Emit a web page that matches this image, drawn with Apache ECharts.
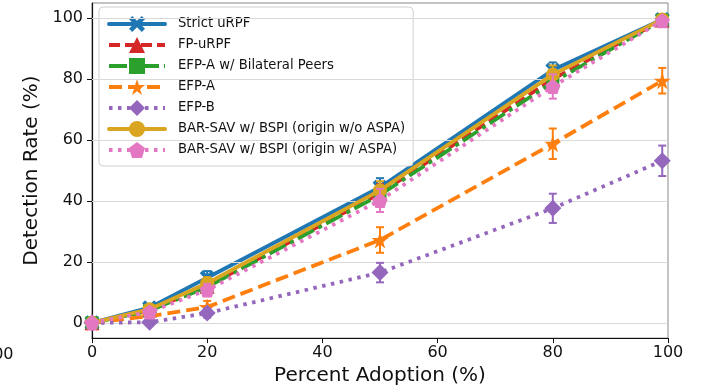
<!DOCTYPE html>
<html>
<head>
<meta charset="utf-8">
<script src="https://cdn.jsdelivr.net/npm/echarts@6/dist/echarts.min.js"></script>
<style>
  html, body { margin: 0; padding: 0; background: #fff; }
  #chart { width: 705px; height: 391px; }
</style>
</head>
<body>
<div id="chart"></div>
<script>
// Adoption levels (x) and detection rates (%) with error half-widths
const adoption = [0, 10, 20, 50, 80, 99];

const strictUrpf     = [0, 5.0, 14.8, 44.5, 83.0, 99.6];
const strictUrpfErr  = [0.6, 1.2, 2.2, 3.0, 2.5, 0.8];

const fpUrpf         = [0, 4.2, 12.0, 42.5, 80.0, 99.4];
const fpUrpfErr      = [0.6, 1.0, 2.0, 3.0, 3.0, 0.8];

const efpaBilateral    = [0, 4.0, 11.8, 42.0, 79.0, 99.4];
const efpaBilateralErr = [0.6, 1.0, 2.0, 3.0, 3.0, 0.8];

const efpa           = [0, 2.2, 5.2, 27.2, 58.8, 79.5];
const efpaErr        = [0.5, 1.0, 2.0, 4.2, 5.0, 4.2];

const efpb           = [0, 0.2, 3.2, 16.5, 37.6, 53.2];
const efpbErr        = [0.3, 0.6, 1.5, 3.2, 4.8, 5.0];

const barsavNoAspa    = [0, 4.5, 13.0, 43.5, 81.5, 99.6];
const barsavNoAspaErr = [0.6, 1.0, 2.0, 3.0, 3.0, 0.8];

const barsavAspa     = [0, 3.6, 10.8, 40.2, 77.6, 99.2];
const barsavAspaErr  = [0.6, 1.0, 2.0, 3.8, 4.0, 0.8];

const yTicks = [0, 20, 40, 60, 80, 100];

// Marker shapes not built into ECharts
const SYM_X = 'path://M20,0 L50,30 L80,0 L100,20 L70,50 L100,80 L80,100 L50,70 L20,100 L0,80 L30,50 L0,20 Z';
const SYM_STAR = 'path://M50,0 L61.2,34.5 L97.6,34.5 L68.2,55.9 L79.4,90.5 L50,69.1 L20.6,90.5 L31.8,55.9 L2.4,34.5 L38.8,34.5 Z';
const SYM_PENT = 'path://M50,0 L100,36.3 L80.9,95.1 L19.1,95.1 L0,36.3 Z';

const seriesDefs = [
  { name: 'Strict uRPF', color: '#1f77b4', data: strictUrpf, err: strictUrpfErr, type: 'solid', symbol: SYM_X, size: 15 },
  { name: 'FP-uRPF', color: '#d62728', data: fpUrpf, err: fpUrpfErr, type: [11, 5], symbol: 'triangle', size: 15 },
  { name: 'EFP-A w/ Bilateral Peers', color: '#2ca02c', data: efpaBilateral, err: efpaBilateralErr, type: [18, 5, 4, 5], symbol: 'rect', size: 13 },
  { name: 'EFP-A', color: '#ff7f0e', data: efpa, err: efpaErr, type: [13, 6], symbol: SYM_STAR, size: 17 },
  { name: 'EFP-B', color: '#9467bd', data: efpb, err: efpbErr, type: [3.5, 5.5], symbol: 'diamond', size: 17 },
  { name: 'BAR-SAV w/ BSPI (origin w/o ASPA)', color: '#daa520', data: barsavNoAspa, err: barsavNoAspaErr, type: 'solid', symbol: 'circle', size: 14 },
  { name: 'BAR-SAV w/ BSPI (origin w/ ASPA)', color: '#e377c2', data: barsavAspa, err: barsavAspaErr, type: [3.5, 5.5], symbol: SYM_PENT, size: 15 }
];

function errorBarRenderer(color) {
  return function (params, api) {
    const x = api.value(0);
    const top = api.coord([x, api.value(2)]);
    const bot = api.coord([x, api.value(1)]);
    const cap = 4;
    const style = { stroke: color, lineWidth: 2 };
    return {
      type: 'group',
      children: [
        { type: 'line', shape: { x1: top[0], y1: top[1], x2: bot[0], y2: bot[1] }, style: style },
        { type: 'line', shape: { x1: top[0] - cap, y1: top[1], x2: top[0] + cap, y2: top[1] }, style: style },
        { type: 'line', shape: { x1: bot[0] - cap, y1: bot[1], x2: bot[0] + cap, y2: bot[1] }, style: style }
      ]
    };
  };
}

const series = [];
seriesDefs.forEach(function (d, i) {
  series.push({
    name: d.name,
    type: 'line',
    data: adoption.map(function (x, k) { return [x, d.data[k]]; }),
    symbol: d.symbol,
    symbolSize: d.size,
    showAllSymbol: true,
    color: d.color,
    lineStyle: { color: d.color, width: 3.8, type: d.type, cap: d.type === 'solid' ? 'round' : 'butt' },
    itemStyle: { color: d.color },
    z: 3 + i,
    animation: false,
    clip: false
  });
  series.push({
    type: 'custom',
    renderItem: errorBarRenderer(d.color),
    data: adoption.map(function (x, k) { return [x, d.data[k] - d.err[k], d.data[k] + d.err[k]]; }),
    encode: { x: 0, y: [1, 2] },
    z: 3 + i,
    animation: false,
    silent: true
  });
});

// Horizontal grid lines at the labelled y ticks
series.push({
  type: 'line',
  data: [],
  silent: true,
  z: 1,
  markLine: {
    silent: true,
    symbol: 'none',
    label: { show: false },
    animation: false,
    lineStyle: { color: '#d9d9d9', width: 1, type: 'solid' },
    data: yTicks.map(function (v) { return { yAxis: v }; })
  }
});

const chart = echarts.init(document.getElementById('chart'), null, { renderer: 'canvas' });
chart.setOption({
  animation: false,
  backgroundColor: '#ffffff',
  textStyle: { fontFamily: 'DejaVu Sans' },
  grid: {
    left: 92, right: 37, top: 3, bottom: 51,
    show: true, borderColor: '#888', borderWidth: 1, backgroundColor: 'transparent'
  },
  xAxis: {
    type: 'value', min: 0, max: 100, interval: 20,
    name: 'Percent Adoption (%)', nameLocation: 'middle', nameGap: 27,
    nameTextStyle: { fontSize: 20, color: '#111', fontFamily: 'DejaVu Sans' },
    axisLine: { show: true, onZero: false, lineStyle: { color: '#111', width: 1.2 } },
    axisTick: { show: true, length: 5, lineStyle: { color: '#111' } },
    axisLabel: { fontSize: 16, color: '#111', margin: 7, fontFamily: 'DejaVu Sans' },
    splitLine: { show: false }
  },
  yAxis: {
    type: 'value', min: -5, max: 105,
    name: 'Detection Rate (%)', nameLocation: 'middle', nameGap: 46,
    nameTextStyle: { fontSize: 20, color: '#111', fontFamily: 'DejaVu Sans' },
    axisLine: { show: true, onZero: false, lineStyle: { color: '#111', width: 1.2 } },
    axisTick: { show: true, length: 5, customValues: yTicks, lineStyle: { color: '#111' } },
    axisLabel: { fontSize: 16, color: '#111', margin: 9, customValues: yTicks, fontFamily: 'DejaVu Sans' },
    splitLine: { show: false }
  },
  legend: {
    orient: 'vertical',
    left: 99, top: 7,
    padding: [9, 8, 8, 8],
    itemWidth: 56, itemHeight: 20, itemGap: 5,
    backgroundColor: '#ffffff',
    borderColor: '#d0d0d0', borderWidth: 1, borderRadius: 4,
    lineStyle: { width: 4 },
    textStyle: { fontSize: 13.2, color: '#111', fontFamily: 'DejaVu Sans', padding: [0, 0, 0, 8] },
    data: seriesDefs.map(function (d) { return d.name; })
  },
  graphic: [
    {
      type: 'text', left: -17, top: 347,
      style: { text: '100', fontSize: 16, fill: '#111', fontFamily: 'DejaVu Sans' }
    }
  ],
  series: series
});
</script>
</body>
</html>
